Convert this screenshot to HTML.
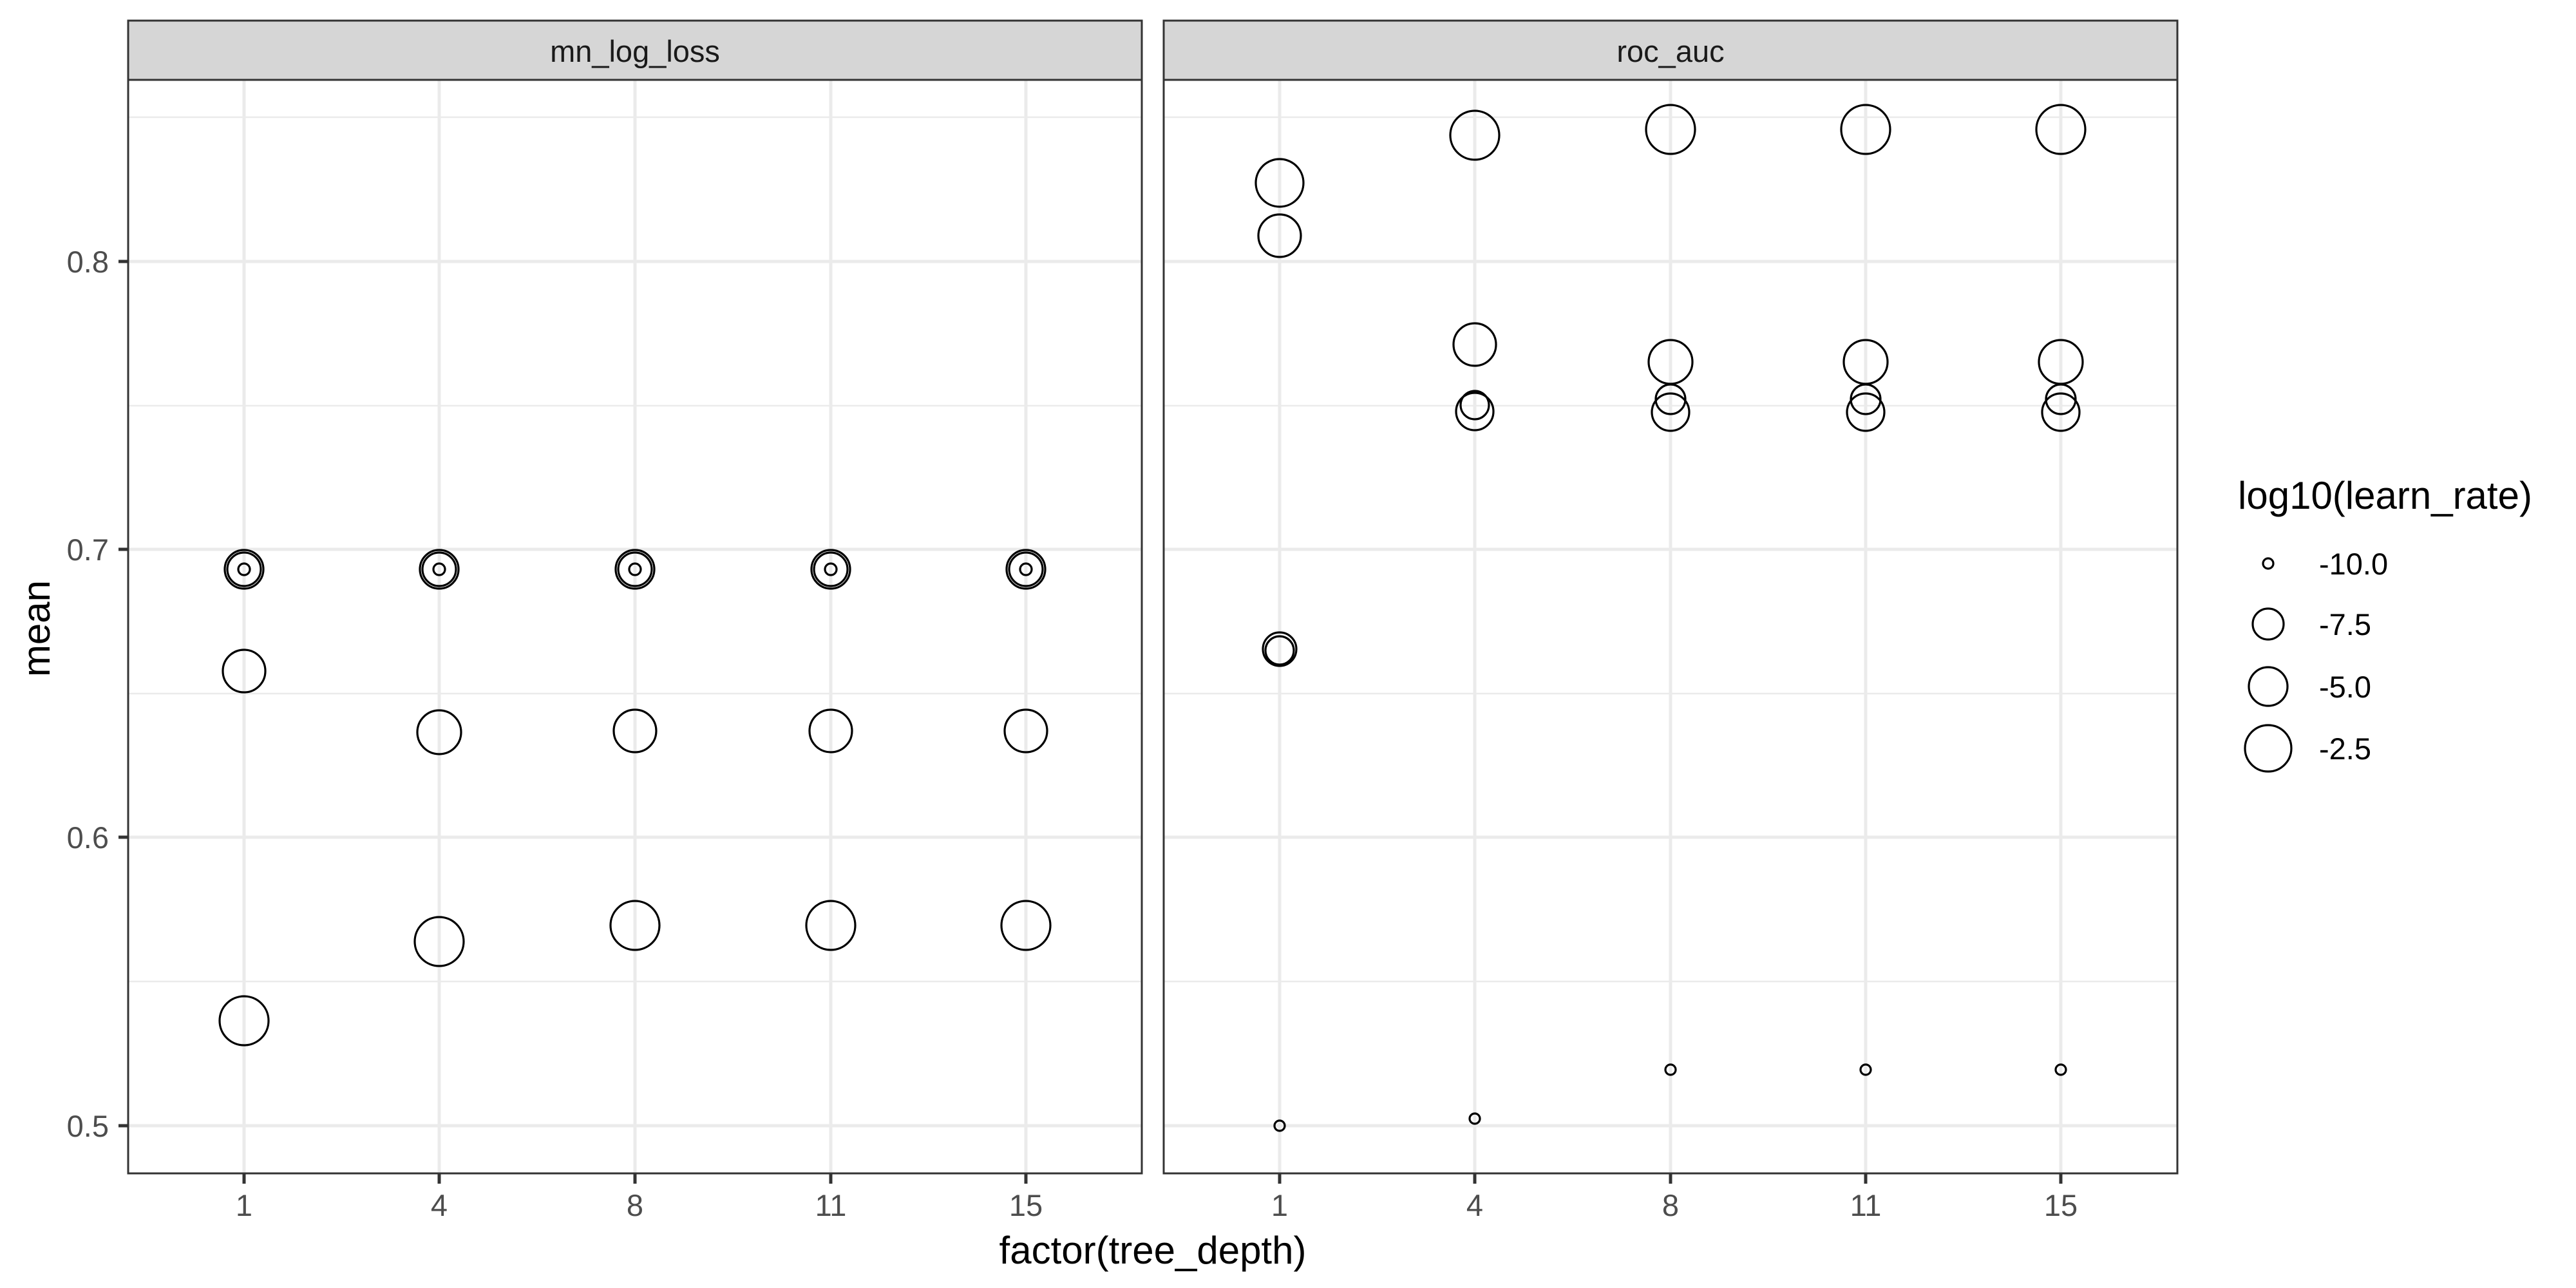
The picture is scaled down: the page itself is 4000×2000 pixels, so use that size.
<!DOCTYPE html>
<html><head><meta charset="utf-8"><style>html,body{margin:0;padding:0;background:#fff}svg{display:block}</style></head>
<body>
<svg width="4000" height="2000" viewBox="0 0 4000 2000" xmlns="http://www.w3.org/2000/svg" font-family="Liberation Sans, Arial, sans-serif">
<rect width="4000" height="2000" fill="#fff"/>
<!-- Panel 1 -->
<g>
<rect x="199" y="124" width="1574" height="1698" fill="#fff"/>
<g stroke="#ebebeb" stroke-width="2.5">
<line x1="199" x2="1773" y1="1524" y2="1524"/><line x1="199" x2="1773" y1="1077" y2="1077"/><line x1="199" x2="1773" y1="630" y2="630"/><line x1="199" x2="1773" y1="182" y2="182"/>
</g>
<g stroke="#ebebeb" stroke-width="5">
<line x1="199" x2="1773" y1="1748" y2="1748"/><line x1="199" x2="1773" y1="1300" y2="1300"/><line x1="199" x2="1773" y1="853" y2="853"/><line x1="199" x2="1773" y1="406" y2="406"/>
<line y1="124" y2="1822" x1="379" x2="379"/><line y1="124" y2="1822" x1="682" x2="682"/><line y1="124" y2="1822" x1="986" x2="986"/><line y1="124" y2="1822" x1="1290" x2="1290"/><line y1="124" y2="1822" x1="1593" x2="1593"/>
</g>
<g fill="none" stroke="#000" stroke-width="3.2">
<circle cx="379" cy="884" r="30"/><circle cx="379" cy="884" r="26"/><circle cx="379" cy="884" r="9"/>
<circle cx="379" cy="1042" r="33"/><circle cx="379" cy="1585" r="38"/>
<circle cx="682" cy="884" r="30"/><circle cx="682" cy="884" r="26"/><circle cx="682" cy="884" r="9"/>
<circle cx="682" cy="1137" r="34"/><circle cx="682" cy="1462" r="38"/>
<circle cx="986" cy="884" r="30"/><circle cx="986" cy="884" r="26"/><circle cx="986" cy="884" r="9"/>
<circle cx="986" cy="1135" r="33"/><circle cx="986" cy="1437" r="38"/>
<circle cx="1290" cy="884" r="30"/><circle cx="1290" cy="884" r="26"/><circle cx="1290" cy="884" r="9"/>
<circle cx="1290" cy="1135" r="33"/><circle cx="1290" cy="1437" r="38"/>
<circle cx="1593" cy="884" r="30"/><circle cx="1593" cy="884" r="26"/><circle cx="1593" cy="884" r="9"/>
<circle cx="1593" cy="1135" r="33"/><circle cx="1593" cy="1437" r="38"/>
</g>
<rect x="199" y="124" width="1574" height="1698" fill="none" stroke="#333" stroke-width="3"/>
<rect x="199" y="32" width="1574" height="92" fill="#d6d6d6" stroke="#333" stroke-width="3"/>
<text x="986" y="96" font-size="47" text-anchor="middle" fill="#1a1a1a">mn_log_loss</text>
</g>
<!-- Panel 2 -->
<g>
<rect x="1807" y="124" width="1574" height="1698" fill="#fff"/>
<g stroke="#ebebeb" stroke-width="2.5">
<line x1="1807" x2="3381" y1="1524" y2="1524"/><line x1="1807" x2="3381" y1="1077" y2="1077"/><line x1="1807" x2="3381" y1="630" y2="630"/><line x1="1807" x2="3381" y1="182" y2="182"/>
</g>
<g stroke="#ebebeb" stroke-width="5">
<line x1="1807" x2="3381" y1="1748" y2="1748"/><line x1="1807" x2="3381" y1="1300" y2="1300"/><line x1="1807" x2="3381" y1="853" y2="853"/><line x1="1807" x2="3381" y1="406" y2="406"/>
<line y1="124" y2="1822" x1="1987" x2="1987"/><line y1="124" y2="1822" x1="2290" x2="2290"/><line y1="124" y2="1822" x1="2594" x2="2594"/><line y1="124" y2="1822" x1="2897" x2="2897"/><line y1="124" y2="1822" x1="3200" x2="3200"/>
</g>
<g fill="none" stroke="#000" stroke-width="3.2">
<circle cx="1987" cy="284" r="37"/><circle cx="1987" cy="366" r="33"/>
<circle cx="1987" cy="1008" r="26"/><circle cx="1987" cy="1010" r="22"/>
<circle cx="1987" cy="1748" r="8"/>
<circle cx="2290" cy="210" r="38"/><circle cx="2290" cy="535" r="33"/>
<circle cx="2290" cy="629" r="22"/><circle cx="2290" cy="639" r="29"/>
<circle cx="2290" cy="1737" r="8"/>
<circle cx="2594" cy="201" r="38"/><circle cx="2594" cy="562" r="34"/><circle cx="2594" cy="620" r="23"/><circle cx="2594" cy="640" r="29"/><circle cx="2594" cy="1661" r="8"/>
<circle cx="2897" cy="201" r="38"/><circle cx="2897" cy="562" r="34"/><circle cx="2897" cy="620" r="23"/><circle cx="2897" cy="640" r="29"/><circle cx="2897" cy="1661" r="8"/>
<circle cx="3200" cy="201" r="38"/><circle cx="3200" cy="562" r="34"/><circle cx="3200" cy="620" r="23"/><circle cx="3200" cy="640" r="29"/><circle cx="3200" cy="1661" r="8"/>
</g>
<rect x="1807" y="124" width="1574" height="1698" fill="none" stroke="#333" stroke-width="3"/>
<rect x="1807" y="32" width="1574" height="92" fill="#d6d6d6" stroke="#333" stroke-width="3"/>
<text x="2594" y="96" font-size="47" text-anchor="middle" fill="#1a1a1a">roc_auc</text>
</g>
<!-- Axes -->
<g stroke="#333" stroke-width="5">
<line x1="184" x2="199" y1="1748" y2="1748"/><line x1="184" x2="199" y1="1300" y2="1300"/><line x1="184" x2="199" y1="853" y2="853"/><line x1="184" x2="199" y1="406" y2="406"/>
<line x1="379" x2="379" y1="1822" y2="1838"/><line x1="682" x2="682" y1="1822" y2="1838"/><line x1="986" x2="986" y1="1822" y2="1838"/><line x1="1290" x2="1290" y1="1822" y2="1838"/><line x1="1593" x2="1593" y1="1822" y2="1838"/>
<line x1="1987" x2="1987" y1="1822" y2="1838"/><line x1="2290" x2="2290" y1="1822" y2="1838"/><line x1="2594" x2="2594" y1="1822" y2="1838"/><line x1="2897" x2="2897" y1="1822" y2="1838"/><line x1="3200" x2="3200" y1="1822" y2="1838"/>
</g>
<g font-size="47" fill="#4d4d4d" text-anchor="end">
<text x="169" y="1765">0.5</text><text x="169" y="1317">0.6</text><text x="169" y="870">0.7</text><text x="169" y="423">0.8</text>
</g>
<g font-size="47" fill="#4d4d4d" text-anchor="middle">
<text x="379" y="1888">1</text><text x="682" y="1888">4</text><text x="986" y="1888">8</text><text x="1290" y="1888">11</text><text x="1593" y="1888">15</text>
<text x="1987" y="1888">1</text><text x="2290" y="1888">4</text><text x="2594" y="1888">8</text><text x="2897" y="1888">11</text><text x="3200" y="1888">15</text>
</g>
<text x="1790" y="1962" font-size="60" text-anchor="middle" fill="#000">factor(tree_depth)</text>
<text transform="translate(77,976) rotate(-90)" font-size="60" text-anchor="middle" fill="#000">mean</text>
<!-- Legend -->
<text x="3475" y="790" font-size="60" fill="#000">log10(learn_rate)</text>
<g fill="none" stroke="#000" stroke-width="3.2">
<circle cx="3522" cy="875" r="8"/><circle cx="3522" cy="969" r="24"/><circle cx="3522" cy="1066" r="30"/><circle cx="3522" cy="1162" r="36"/>
</g>
<g font-size="47" fill="#000">
<text x="3601" y="892">-10.0</text><text x="3601" y="986">-7.5</text><text x="3601" y="1083">-5.0</text><text x="3601" y="1179">-2.5</text>
</g>
</svg>
</body></html>
